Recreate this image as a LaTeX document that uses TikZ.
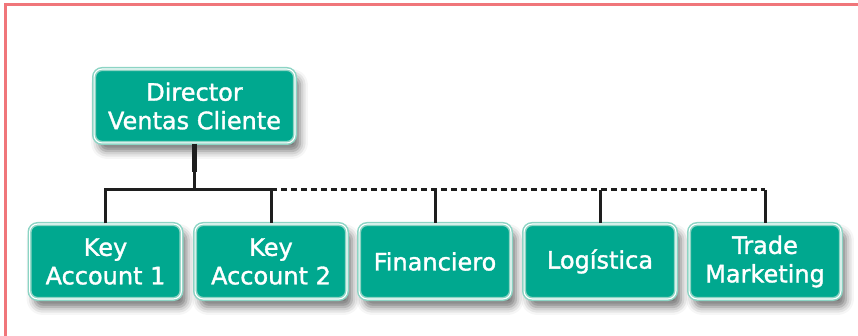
\documentclass[tikz,border=0pt]{standalone}
\usepackage{fontspec}
\setmainfont{DejaVu Sans}
\newfontfamily\labelfont[FakeBold=1.4]{DejaVu Sans}
\usetikzlibrary{shadows.blur}

\definecolor{boxfill}{RGB}{0,168,143}
\definecolor{boxrim}{RGB}{140,212,196}
\definecolor{wire}{RGB}{30,30,30}
\definecolor{framered}{RGB}{240,118,122}

\begin{document}
\begin{tikzpicture}[x=1pt, y=-1pt,
  unit/.style={rectangle, rounded corners=8pt, fill=boxfill,
    draw=boxrim, double=white, double distance=1.1pt, line width=1.5pt,
    text=white, font=\labelfont\fontsize{24}{28.5}\selectfont, align=center,
    inner sep=0pt,
    blur shadow={shadow xshift=5pt, shadow yshift=-8pt,
      shadow blur radius=8pt, shadow opacity=55}},
  lead/.style={unit, minimum width=200.9pt, minimum height=73.9pt},
  member/.style={unit, minimum width=151.9pt, minimum height=74.9pt},
  bus/.style={draw=wire, line width=3pt},
  trunk/.style={draw=wire, line width=4.5pt},
  link/.style={bus, dash pattern=on 6pt off 4pt},
  border/.style={draw=framered, line width=3pt}]

  \useasboundingbox (0,0) rectangle (858,336);

  % page frame (open to the right and bottom)
  \draw[border] (5,340) -- (5,4.8) -- (862,4.8);

  % head of the department
  \node[lead] (dir) at (194.5,106) {Director\\Ventas Cliente};

  % reporting units
  \node[member] (ka1)   at (105.5,261.5) {Key\\Account 1};
  \node[member] (ka2)   at (271,261.5)   {Key\\Account 2};
  \node[member] (fin)   at (435,261.5)   {Financiero};
  \node[member] (log)   at (600,261.5)   {Logística};
  \node[member] (trade) at (765,261.5)   {Trade\\Marketing};

  % junction points of the connector tree
  \coordinate (neck) at (dir.south |- 0,172);
  \coordinate (hub)  at (dir.south |- 0,190);

  % direct line from the director
  \draw[trunk] (dir.south) -- (neck);
  \draw[bus] (neck) -- (hub);

  % solid bus to the key accounts
  \draw[bus] (ka1.north) -- (ka1.north |- hub) -- (ka2.north |- hub) -- (ka2.north);

  % dashed bus to the support units
  \draw[link] (ka2.north |- hub) -- (trade.north |- hub);
  \draw[bus] (fin.north |- hub) -- (fin.north);
  \draw[bus] (log.north |- hub) -- (log.north);
  \draw[bus] (trade.north |- hub) -- (trade.north);
\end{tikzpicture}
\end{document}
